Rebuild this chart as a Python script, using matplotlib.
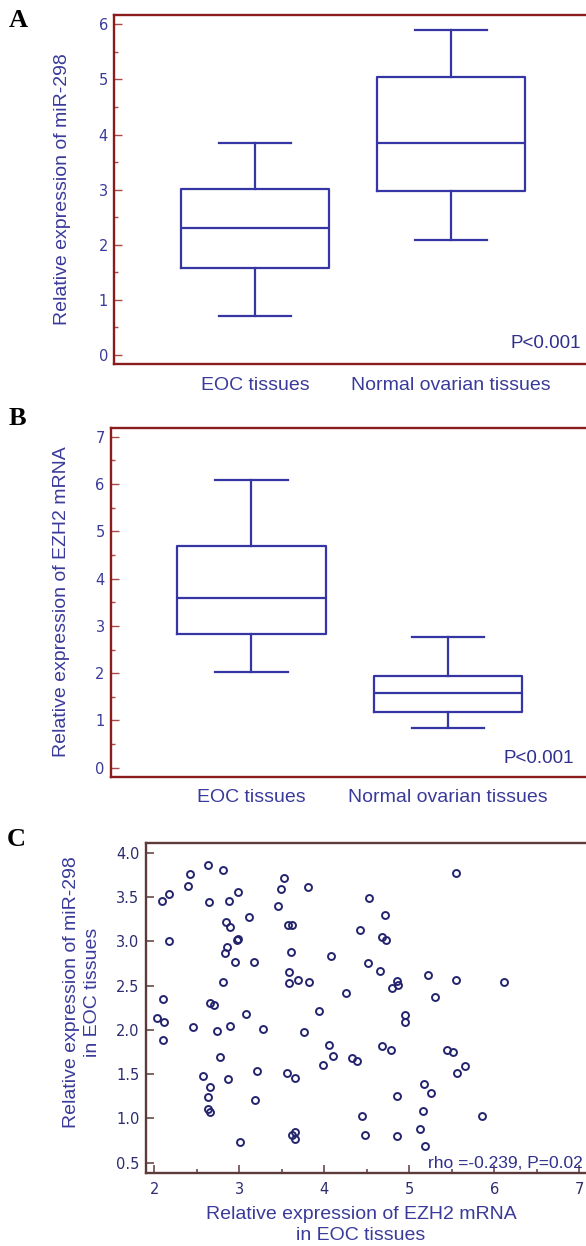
import matplotlib
matplotlib.use("Agg")
import matplotlib.pyplot as plt
from matplotlib.ticker import MultipleLocator, FormatStrFormatter

# ---- data ----
groups = ['EOC tissues', 'Normal ovarian tissues']

# panel A: miR-298 box summaries
mir_low = [0.70, 2.08]
mir_q1 = [1.58, 2.98]
mir_med = [2.30, 3.85]
mir_q3 = [3.02, 5.05]
mir_high = [3.85, 5.90]

# panel B: EZH2 mRNA box summaries
ezh2_low = [2.02, 0.85]
ezh2_q1 = [2.82, 1.18]
ezh2_med = [3.58, 1.59]
ezh2_q3 = [4.69, 1.95]
ezh2_high = [6.09, 2.76]

# panel C: EZH2 mRNA vs miR-298 in EOC tissues
ezh2_eoc = [2.09, 2.17, 2.17, 2.10, 2.42, 2.40, 2.63, 2.81, 2.64, 2.88,
            2.99, 2.84, 2.89, 3.11, 2.97, 2.99, 2.85, 2.83, 2.95, 3.17,
            2.81, 2.66, 2.70, 3.53, 3.49, 3.45, 3.57, 3.62, 3.61, 3.59,
            3.59, 3.69, 3.81, 4.53, 4.71, 4.42, 4.68, 4.73, 4.08, 4.52,
            4.66, 5.22, 3.82, 4.85, 4.87, 4.80, 4.26, 5.30, 5.55, 5.55,
            6.11, 2.03, 2.11, 2.10, 2.45, 2.74, 2.89, 3.08, 3.28, 2.77,
            2.57, 2.87, 3.21, 3.56, 3.66, 2.65, 2.63, 3.19, 2.63, 2.66,
            3.01, 3.62, 3.66, 3.65, 3.94, 3.76, 4.06, 4.10, 3.99, 4.33,
            4.39, 4.68, 4.78, 4.95, 4.95, 5.44, 5.52, 5.17, 5.26, 4.86,
            5.16, 4.44, 5.13, 4.48, 4.86, 5.19, 5.56, 5.66, 5.85]
mir_eoc = [3.45, 3.53, 3.00, 2.35, 3.76, 3.62, 3.86, 3.81, 3.44, 3.46,
           3.56, 3.22, 3.16, 3.27, 3.02, 3.03, 2.94, 2.87, 2.77, 2.77,
           2.54, 2.30, 2.28, 3.71, 3.59, 3.40, 3.18, 3.18, 2.88, 2.65,
           2.53, 2.56, 3.61, 3.49, 3.30, 3.13, 3.05, 3.01, 2.83, 2.75,
           2.67, 2.62, 2.54, 2.55, 2.51, 2.47, 2.42, 2.37, 3.77, 2.56,
           2.54, 2.13, 2.09, 1.89, 2.03, 1.99, 2.04, 2.18, 2.01, 1.69,
           1.48, 1.45, 1.54, 1.51, 1.46, 1.36, 1.24, 1.21, 1.11, 1.07,
           0.73, 0.81, 0.85, 0.77, 2.21, 1.98, 1.83, 1.70, 1.60, 1.68,
           1.65, 1.82, 1.77, 2.17, 2.09, 1.77, 1.75, 1.39, 1.29, 1.25,
           1.08, 1.03, 0.88, 0.81, 0.80, 0.69, 1.51, 1.59, 1.03]

W, H = 586, 1246
BLUE = '#3535a3'
TXT = '#3a3a9a'
MAROON = '#8b1c1c'
BROWN = '#5e3b3b'
NAVY = '#24246e'


def rect(l, t, r, b):
    return [l / W, 1 - b / H, (r - l) / W, (b - t) / H]


fig = plt.figure(figsize=(W / 100, H / 100), dpi=100)
plt.rcParams['font.family'] = ['Liberation Sans', 'DejaVu Sans']


def box_panel(box, low, q1, med, q3, high, ylim, xlim, ylabel):
    ax = fig.add_axes(box)
    stats = []
    for i in range(len(groups)):
        stats.append(dict(whislo=low[i], q1=q1[i], med=med[i], q3=q3[i],
                          whishi=high[i], label=groups[i]))
    lp = dict(color=BLUE, linewidth=1.6)
    ax.bxp(stats, positions=[1, 2], widths=0.755, capwidths=0.37,
           showfliers=False, boxprops=lp, medianprops=lp,
           whiskerprops=lp, capprops=lp)
    ax.set_xlim(*xlim)
    ax.set_ylim(*ylim)
    for s in ax.spines.values():
        s.set_color(MAROON)
        s.set_linewidth(1.7)
    ax.yaxis.set_major_locator(MultipleLocator(1))
    ax.yaxis.set_minor_locator(MultipleLocator(0.5))
    ax.tick_params(axis='y', which='both', direction='in', colors='#a84a4a',
                   labelcolor=TXT, labelsize=10.5, pad=4.5, right=False)
    ax.tick_params(axis='y', which='major', length=6, width=1)
    ax.tick_params(axis='y', which='minor', length=3, width=1)
    for t in ax.get_yticklabels():
        t.set_fontfamily('DejaVu Sans')
    ax.tick_params(axis='x', length=0, labelcolor=TXT, labelsize=14, pad=9)
    ax.set_ylabel(ylabel, color=TXT, fontsize=14)
    ax.text(0.985, 0.025, 'P<0.001', transform=ax.transAxes, color='#2f2f8c',
            fontsize=13.5, ha='right', va='bottom')
    return ax


# right edge of each frame runs past the figure edge, as in the reference
axA = box_panel(rect(114.3, 15, 600, 364.3), mir_low, mir_q1, mir_med, mir_q3,
                mir_high, (-0.169, 6.169), (0.282, 2.760),
                'Relative expression of miR-298')
axA.yaxis.set_label_coords(70.8 / W, 1 - 189.2 / H, transform=fig.transFigure)
axA.texts[0].set_position((581 / W, 1 - 352 / H))
axA.texts[0].set_transform(fig.transFigure)

axB = box_panel(rect(111, 428.3, 600, 776.7), ezh2_low, ezh2_q1, ezh2_med, ezh2_q3,
                ezh2_high, (-0.19, 7.18), (0.286, 2.774),
                'Relative expression of EZH2 mRNA')
axB.yaxis.set_label_coords(70 / W, 1 - 601.7 / H, transform=fig.transFigure)
axB.texts[0].set_position((574 / W, 1 - 767 / H))
axB.texts[0].set_transform(fig.transFigure)

# ---- panel C ----
axC = fig.add_axes(rect(145.7, 843.3, 600, 1172.7))
axC.plot(ezh2_eoc, mir_eoc, linestyle='none', marker='o', ms=5, mfc='none',
         mec=NAVY, mew=1.4)
axC.set_xlim(1.899, 7.244)
axC.set_ylim(0.388, 4.106)
for s in axC.spines.values():
    s.set_color(BROWN)
    s.set_linewidth(1.7)
axC.xaxis.set_major_locator(MultipleLocator(1))
axC.xaxis.set_minor_locator(MultipleLocator(0.5))
axC.yaxis.set_major_locator(MultipleLocator(0.5))
axC.yaxis.set_major_formatter(FormatStrFormatter('%.1f'))
axC.tick_params(which='both', direction='in', colors=BROWN, labelcolor='#2c2c6e',
                top=False, right=False, labelsize=10.5)
axC.tick_params(which='major', length=6, width=1.1)
axC.tick_params(which='minor', length=3, width=1.1)
axC.tick_params(axis='x', pad=7)
axC.tick_params(axis='y', pad=4.5)
for t in axC.get_xticklabels() + axC.get_yticklabels():
    t.set_fontfamily('DejaVu Sans')
axC.set_xlabel('Relative expression of EZH2 mRNA\nin EOC tissues', color=TXT,
               fontsize=14, linespacing=1.3)
axC.xaxis.set_label_coords(361 / W, 1 - 1225 / H, transform=fig.transFigure)
axC.xaxis.label.set_va('center')
axC.set_ylabel('Relative expression of miR-298\nin EOC tissues', color=TXT,
               fontsize=14, linespacing=1.25)
axC.yaxis.set_label_coords(82 / W, 1 - 992 / H, transform=fig.transFigure)
axC.yaxis.label.set_va('center')
fig.text(583 / W, 1 - 1163 / H, 'rho =-0.239, P=0.02', color='#2f2f8c',
         fontsize=12.5, ha='right', va='center')

# panel letters
for letter, x, y in [('A', 18, 20.5), ('B', 17.4, 418), ('C', 16, 840)]:
    fig.text(x / W, 1 - y / H, letter, fontfamily='Liberation Serif',
             fontweight='bold', fontsize=19, ha='center', va='center')

fig.savefig('out.png', dpi=100)
